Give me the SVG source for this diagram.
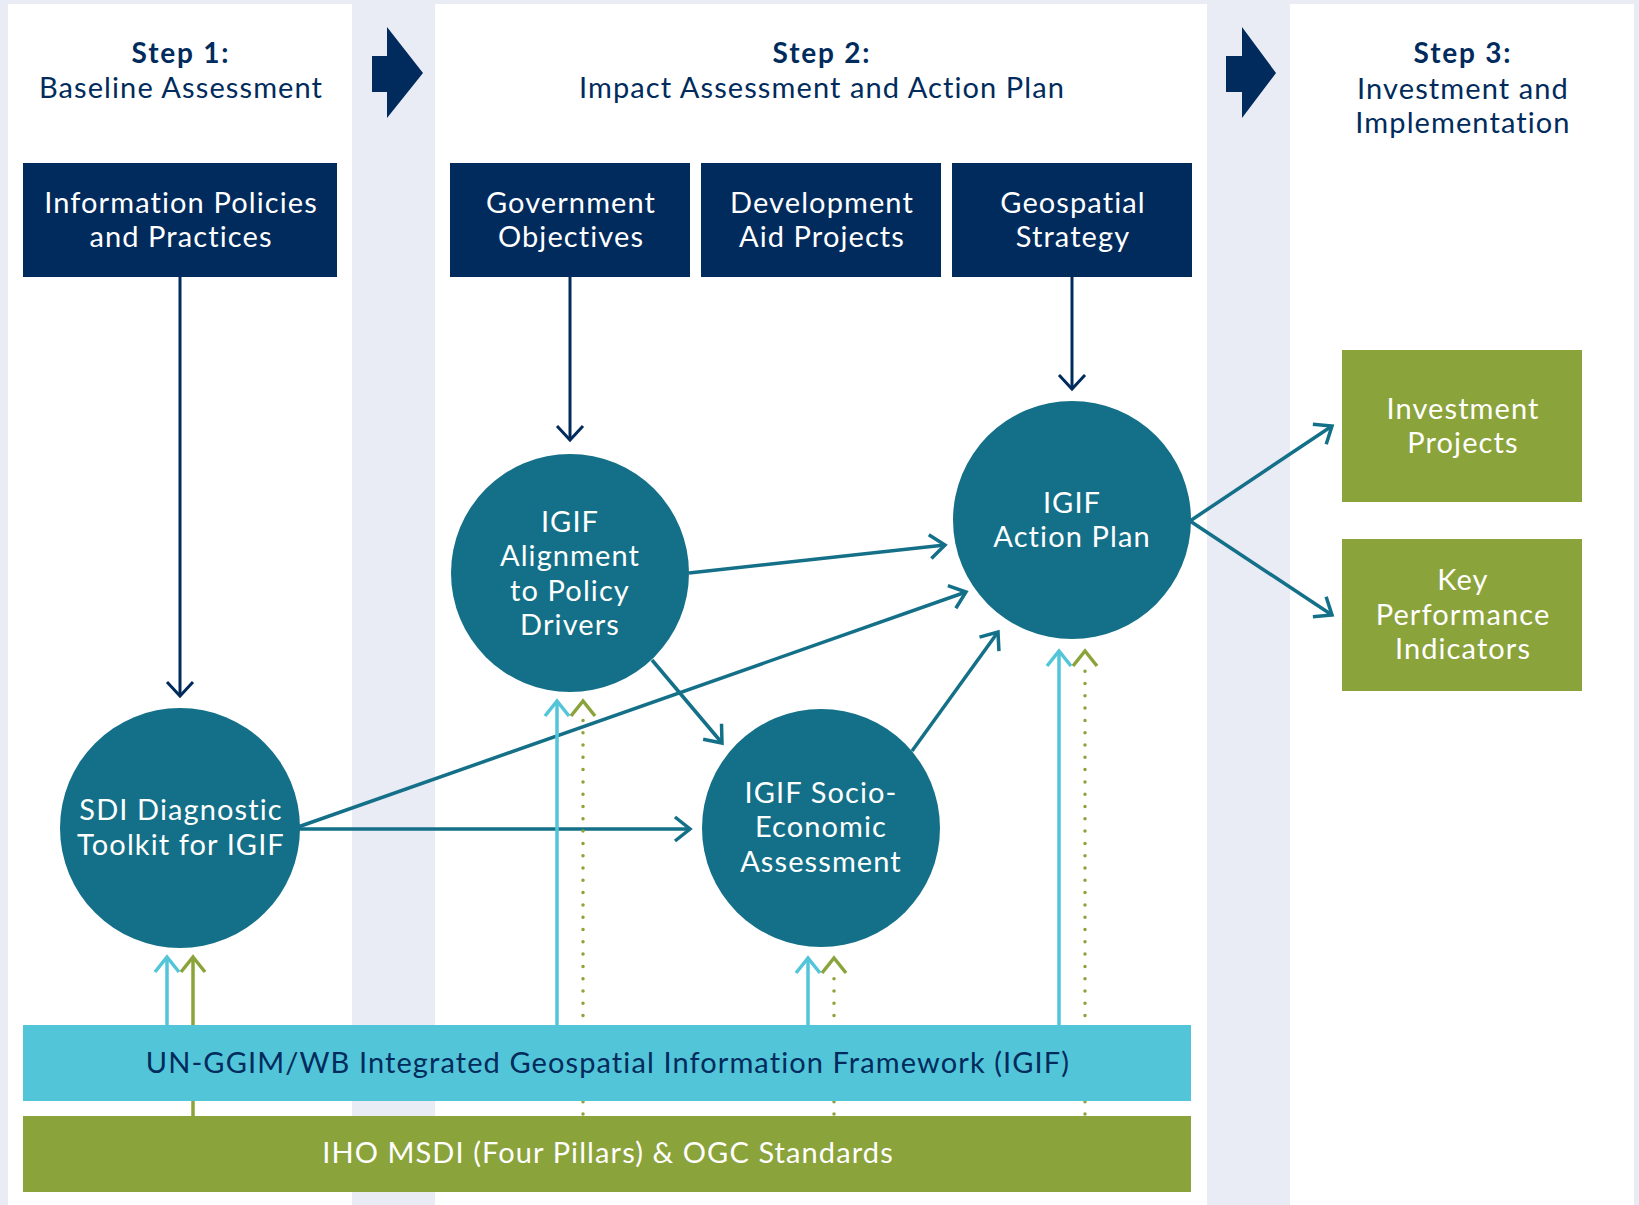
<svg xmlns="http://www.w3.org/2000/svg" width="1639" height="1205" viewBox="0 0 1639 1205">
<style>
text{font-family:Lato,"Noto Sans","Liberation Sans",sans-serif;text-anchor:middle;letter-spacing:1.1px}
.title{font-size:29px;fill:#002B5C}
.step{font-size:28px;font-weight:bold;fill:#002B5C;letter-spacing:1.8px}
.wt{font-size:29px;fill:#ffffff}
.nt{font-size:29px;fill:#002B5C}
.navy{fill:#002B5C}
.teal{fill:#147088}
.green{fill:#8BA33B}
.cyan{fill:#52C5D9}
.ln-navy{stroke:#002B5C;stroke-width:3;fill:none}
.ln-teal{stroke:#147088;stroke-width:3.5;fill:none}
.ln-cyan{stroke:#52C5D9;stroke-width:3.5;fill:none}
.ln-green{stroke:#8BA33B;stroke-width:3.5;fill:none}
.dot{stroke:#8BA33B;stroke-width:3.5;fill:none;stroke-dasharray:0 12.3;stroke-linecap:round}
.chev{stroke:#8BA33B;stroke-width:3.5;fill:none}
</style>
<defs>
<marker id="mNavy" markerUnits="userSpaceOnUse" markerWidth="40" markerHeight="40" viewBox="-20 -20 40 40" refX="0" refY="0" orient="auto"><path d="M-14,-13 L0,0 L-14,13" fill="none" stroke="#002B5C" stroke-width="3"/></marker>
<marker id="mTeal" markerUnits="userSpaceOnUse" markerWidth="40" markerHeight="40" viewBox="-20 -20 40 40" refX="0" refY="0" orient="auto"><path d="M-15,-12 L0,0 L-15,12" fill="none" stroke="#147088" stroke-width="3.5"/></marker>
<marker id="mCyan" markerUnits="userSpaceOnUse" markerWidth="40" markerHeight="40" viewBox="-20 -20 40 40" refX="0" refY="0" orient="auto"><path d="M-15,-12 L0,0 L-15,12" fill="none" stroke="#52C5D9" stroke-width="3.5"/></marker>
<marker id="mGreen" markerUnits="userSpaceOnUse" markerWidth="40" markerHeight="40" viewBox="-20 -20 40 40" refX="0" refY="0" orient="auto"><path d="M-15,-12 L0,0 L-15,12" fill="none" stroke="#8BA33B" stroke-width="3.5"/></marker>
</defs>
<rect x="0" y="0" width="1639" height="1205" fill="#E9ECF4"/>
<g id="panels">
<rect x="8" y="4" width="344" height="1201" fill="#ffffff"/>
<rect x="435" y="4" width="772" height="1201" fill="#ffffff"/>
<rect x="1290" y="4" width="344" height="1201" fill="#ffffff"/>
<polygon points="372,56 387,56 387,27 423,73 387,118 387,92 372,92" class="navy"/>
<polygon points="1226,56 1242,56 1242,27 1276,73 1242,118 1242,92 1226,92" class="navy"/>
</g>
<g id="step1-title"><text x="181" y="63" class="step">Step 1:</text><text x="181" y="98" class="title">Baseline Assessment</text></g>
<g id="step2-title"><text x="822" y="63" class="step">Step 2:</text><text x="822" y="98" class="title">Impact Assessment and Action Plan</text></g>
<g id="step3-title"><text x="1463" y="63" class="step">Step 3:</text><text x="1463" y="99" class="title">Investment and</text><text x="1463" y="133" class="title">Implementation</text></g>

<g id="connectors">
<line x1="180" y1="277" x2="180" y2="696" class="ln-navy" marker-end="url(#mNavy)"/>
<line x1="570" y1="277" x2="570" y2="440" class="ln-navy" marker-end="url(#mNavy)"/>
<line x1="1072" y1="277" x2="1072" y2="389" class="ln-navy" marker-end="url(#mNavy)"/>
<line x1="689" y1="573" x2="945" y2="545" class="ln-teal" marker-end="url(#mTeal)"/>
<line x1="298" y1="827" x2="966" y2="592" class="ln-teal" marker-end="url(#mTeal)"/>
<line x1="298" y1="829" x2="690" y2="829" class="ln-teal" marker-end="url(#mTeal)"/>
<line x1="652" y1="660" x2="722" y2="743" class="ln-teal" marker-end="url(#mTeal)"/>
<line x1="912" y1="751" x2="998" y2="632" class="ln-teal" marker-end="url(#mTeal)"/>
<line x1="1190" y1="521" x2="1332" y2="426" class="ln-teal" marker-end="url(#mTeal)"/>
<line x1="1190" y1="521" x2="1332" y2="615" class="ln-teal" marker-end="url(#mTeal)"/>
<line x1="167" y1="1030" x2="167" y2="957" class="ln-cyan" marker-end="url(#mCyan)"/>
<line x1="193" y1="1118" x2="193" y2="957" class="ln-green" marker-end="url(#mGreen)"/>
<line x1="557" y1="1030" x2="557" y2="701" class="ln-cyan" marker-end="url(#mCyan)"/>
<line x1="583" y1="1114" x2="583" y2="720" class="dot"/>
<path d="M571,716 L583,701 L595,716" class="chev"/>
<line x1="808" y1="1030" x2="808" y2="958" class="ln-cyan" marker-end="url(#mCyan)"/>
<line x1="834" y1="1114" x2="834" y2="974" class="dot"/>
<path d="M822,973 L834,958 L846,973" class="chev"/>
<line x1="1059" y1="1030" x2="1059" y2="651" class="ln-cyan" marker-end="url(#mCyan)"/>
<line x1="1085" y1="1114" x2="1085" y2="666" class="dot"/>
<path d="M1073,666 L1085,651 L1097,666" class="chev"/>
</g>

<g id="box-info"><rect x="23" y="163" width="314" height="114" class="navy"/><text x="181" y="213" class="wt">Information Policies</text><text x="181" y="247" class="wt">and Practices</text></g>
<g id="box-gov"><rect x="450" y="163" width="240" height="114" class="navy"/><text x="571" y="213" class="wt">Government</text><text x="571" y="247" class="wt">Objectives</text></g>
<g id="box-dev"><rect x="701" y="163" width="240" height="114" class="navy"/><text x="822" y="213" class="wt">Development</text><text x="822" y="247" class="wt">Aid Projects</text></g>
<g id="box-geo"><rect x="952" y="163" width="240" height="114" class="navy"/><text x="1073" y="213" class="wt">Geospatial</text><text x="1073" y="247" class="wt">Strategy</text></g>

<g id="c-sdi"><circle cx="180" cy="828" r="120" class="teal"/><text x="181" y="820" class="wt">SDI Diagnostic</text><text x="181" y="855" class="wt">Toolkit for IGIF</text></g>
<g id="c-align"><circle cx="570" cy="573" r="119" class="teal"/><text x="570" y="532" class="wt">IGIF</text><text x="570" y="566" class="wt">Alignment</text><text x="570" y="601" class="wt">to Policy</text><text x="570" y="635" class="wt">Drivers</text></g>
<g id="c-socio"><circle cx="821" cy="828" r="119" class="teal"/><text x="821" y="803" class="wt">IGIF Socio-</text><text x="821" y="837" class="wt">Economic</text><text x="821" y="872" class="wt">Assessment</text></g>
<g id="c-action"><circle cx="1072" cy="520" r="119" class="teal"/><text x="1072" y="513" class="wt">IGIF</text><text x="1072" y="547" class="wt">Action Plan</text></g>

<g id="box-invest"><rect x="1342" y="350" width="240" height="152" class="green"/><text x="1463" y="419" class="wt">Investment</text><text x="1463" y="453" class="wt">Projects</text></g>
<g id="box-kpi"><rect x="1342" y="539" width="240" height="152" class="green"/><text x="1463" y="590" class="wt">Key</text><text x="1463" y="625" class="wt">Performance</text><text x="1463" y="659" class="wt">Indicators</text></g>

<g id="bar-igif"><rect x="23" y="1025" width="1168" height="76" class="cyan"/><text x="608" y="1073" class="nt">UN-GGIM/WB Integrated Geospatial Information Framework (IGIF)</text></g>
<g id="bar-iho"><rect x="23" y="1116" width="1168" height="76" class="green"/><text x="608" y="1163" class="wt">IHO MSDI (Four Pillars) &amp; OGC Standards</text></g>
</svg>
